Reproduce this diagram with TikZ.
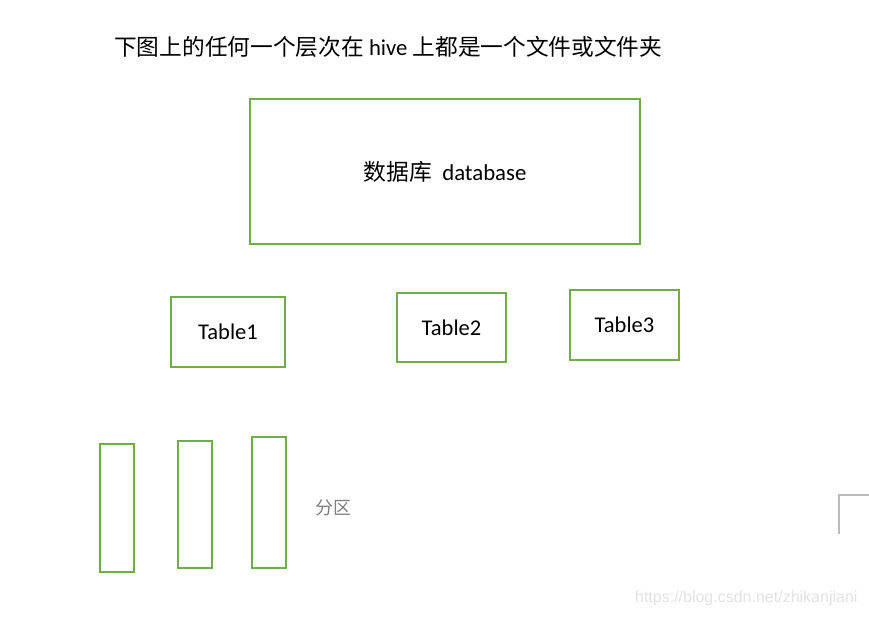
\documentclass[tikz,border=0pt]{standalone}
\usepackage{fontspec}
\setmainfont{Carlito}
\setsansfont{Liberation Sans}
\newfontfamily\cjk{Noto Sans CJK SC}
\definecolor{boxgreen}{HTML}{70AD47}
\definecolor{cornergray}{HTML}{BBBBBB}
\definecolor{markgray}{HTML}{E2E2E2}
\definecolor{labgray}{HTML}{7F7F7F}
\begin{document}
\begin{tikzpicture}[x=1pt,y=-1pt,
  greenbox/.style={draw=boxgreen, line width=1.8pt, inner sep=0pt},
  lbl/.style={font=\fontsize{22.5}{26}\selectfont, text=black}]
\useasboundingbox (0,0) rectangle (869,617);
\fill[white] (0,0) rectangle (869,617);
\node[anchor=west, font=\fontsize{22.7}{27}\selectfont, inner sep=0pt] (title) at (114,47)
  {{\cjk 下图上的任何一个层次在} hive {\cjk 上都是一个文件或文件夹}};
\node[greenbox, minimum width=390pt, minimum height=145pt, font=\fontsize{22.8}{27}\selectfont] (db) at (445,171.5)
  {{\cjk 数据库}\ \ database};
\node[greenbox, minimum width=114pt, minimum height=70pt, lbl] (t1) at (228,332) {Table1};
\node[greenbox, minimum width=109pt, minimum height=69pt, lbl] (t2) at (451.5,327.5) {Table2};
\node[greenbox, minimum width=109pt, minimum height=70pt, lbl] (t3) at (624.5,325) {Table3};
\node[greenbox, minimum width=34pt, minimum height=128pt] (p1) at (117,508) {};
\node[greenbox, minimum width=34pt, minimum height=127pt] (p2) at (195,504.5) {};
\node[greenbox, minimum width=34pt, minimum height=131pt] (p3) at (269,502.5) {};
\node[text=labgray, font=\cjk\fontsize{18}{21}\selectfont] (fq) at (333,508) {分区};
\coordinate (c0) at (839,495);
\coordinate (c1) at (869,495);
\coordinate (c2) at (839,534);
\draw[cornergray, line width=1.2pt] (c1) -- (c0) -- (c2);
\node[anchor=east, text=markgray, font=\sffamily\fontsize{16}{18}\selectfont] (wm) at (861,598) {https://blog.csdn.net/zhikanjiani};
\end{tikzpicture}
\end{document}
